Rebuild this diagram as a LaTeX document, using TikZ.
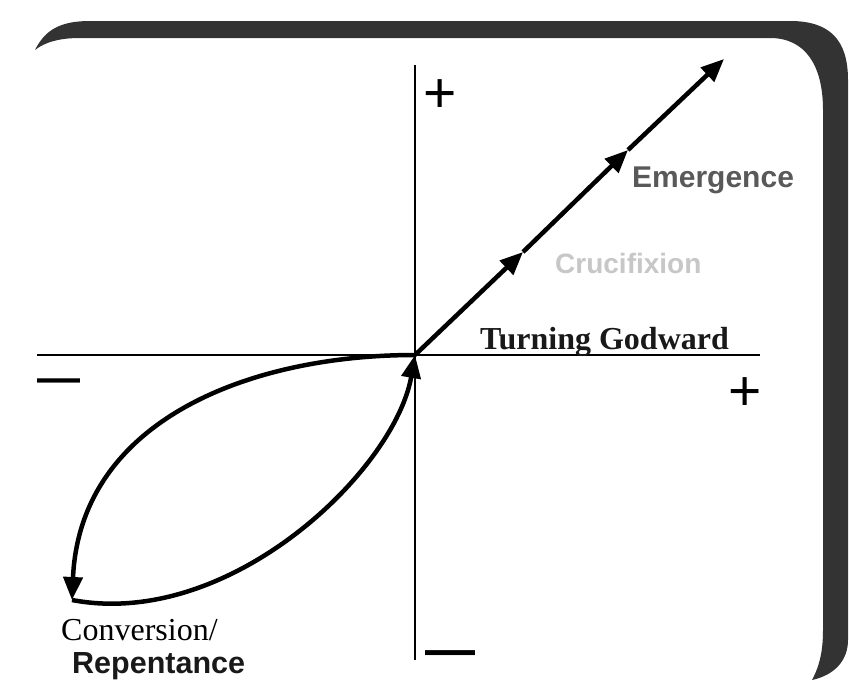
\documentclass[tikz,border=0pt]{standalone}
\usepackage{fontspec}
\setmainfont{Liberation Serif}
\setsansfont{Liberation Sans}
\usetikzlibrary{arrows.meta,positioning}

\begin{document}
\begin{tikzpicture}[x=1pt,y=-1pt,
        axis/.style={line width=2pt},
        curve/.style={line width=4.5pt},
        tip/.style={-{Triangle[length=23pt,width=19pt]}},
        plussign/.style={inner sep=0pt, anchor=base, font=\sffamily\fontsize{57}{57}\selectfont},
        minussign/.style={inner sep=0pt, anchor=base west, font=\sffamily\bfseries\fontsize{43}{43}\selectfont},
        tag/.style={inner sep=0pt, anchor=base west}
    ]
        \useasboundingbox (0,0) rectangle (849,680);
        % frame band
        \fill[black!80, even odd rule] (35,50) .. controls (45,30) and (60,21) .. (90,21) -- (790,21)
            .. controls (830,21) and (848,40) .. (848,80) -- (848,640)
            .. controls (848,660) and (835,675) .. (812,680)
            .. controls (820,665) and (823,650) .. (823,630) -- (823,110)
            .. controls (823,65) and (805,38) .. (770,38) -- (80,38)
            .. controls (60,38) and (45,42) .. (35,50) -- cycle;
        \coordinate (O) at (415,355);
        \coordinate (top) at (415,65);
        \coordinate (bottom) at (415,660);
        \coordinate (left) at (37,355);
        \coordinate (right) at (760,355);
        \coordinate (m1) at (523,252);
        \coordinate (m2) at (628,150);
        \coordinate (end) at (724,59);
        \coordinate (low) at (72,600);
        % axes
        \draw[axis] (top) -- (bottom);
        \draw[axis] (left) -- (right);
        % signs
        \node[plussign] (ptop) at (440,112) {+};
        \node[plussign] (pright) at (745,410) {+};
        \node[minussign] (mleft) at (37,392) {—};
        \node[minussign, font=\sffamily\bfseries\fontsize{50}{50}\selectfont] (mbottom) at (425,666) {—};
        % path
        \draw[curve, tip] (O) .. controls (250,355) and (80,420) .. (low);
        \draw[curve, tip] (low) .. controls (230,630) and (395,470) .. (O);
        \draw[curve, tip] (O) -- (m1);
        \draw[curve, tip] (m1) -- (m2);
        \draw[curve, tip] (m2) -- (end);
        % labels
        \node[tag, text=black!65, font=\sffamily\bfseries\fontsize{30}{30}\selectfont] (emerge) at (632,187) {Emergence};
        \node[tag, text=black!22, font=\sffamily\bfseries\fontsize{28}{28}\selectfont] (cross) at (555,273) {Crucifixion};
        \node[tag, text=black!90, font=\bfseries\fontsize{32}{32}\selectfont] (turn) at (480,349) {Turning Godward};
        \node[tag, font=\fontsize{32}{32}\selectfont] (conv) at (61,640) {Conversion/};
        \node[tag, text=black!90, font=\sffamily\bfseries\fontsize{30.5}{30.5}\selectfont] (repent) at (72,673) {Repentance};
    \end{tikzpicture}
\end{document}
